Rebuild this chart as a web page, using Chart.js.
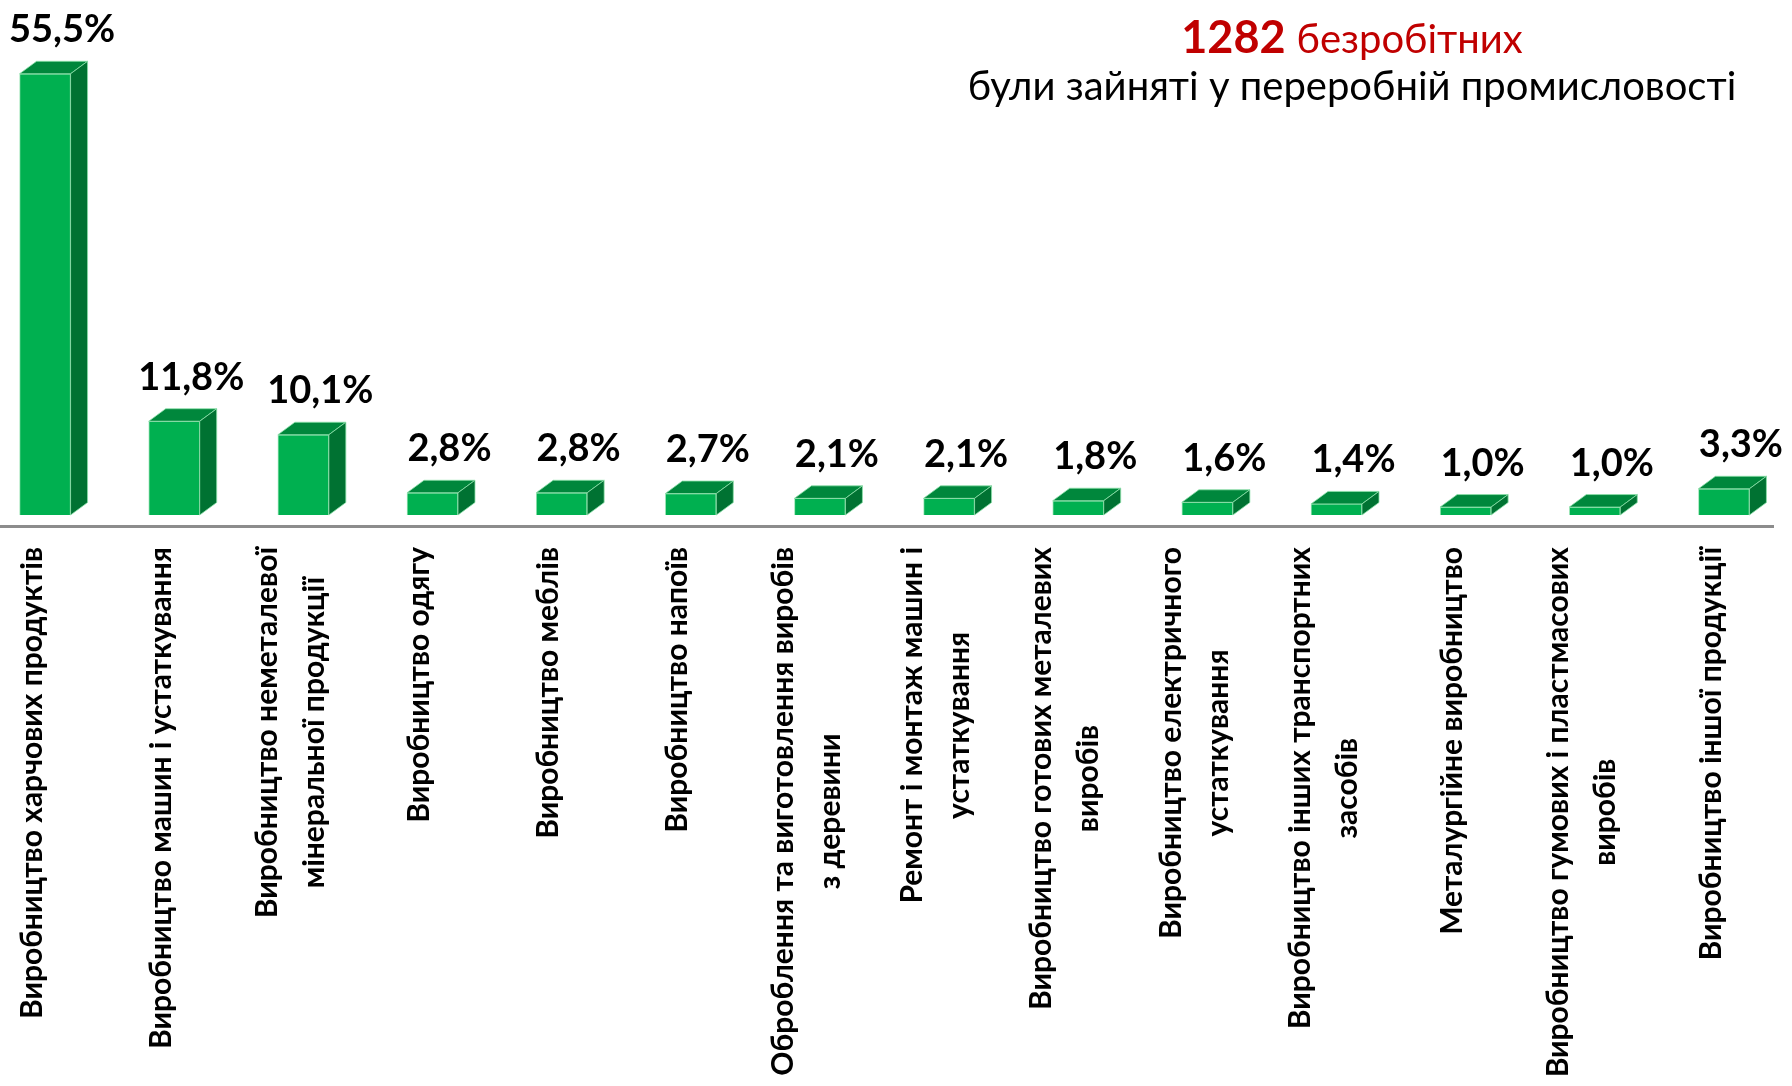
<!DOCTYPE html>
<html lang="uk">
<head>
  <meta charset="UTF-8">
  <title>Безробітні у переробній промисловості</title>
  <script src="https://cdn.jsdelivr.net/npm/chart.js"></script>
  <style>
    body { margin: 0; background: #fff; }
  </style>
</head>
<body>
  <canvas id="myChart" width="1792" height="1086"></canvas>

  <script>
    // data
    const categories = [
      'Виробництво харчових продуктів',
      'Виробництво машин і устаткування',
      ['Виробництво неметалевої', 'мінеральної продукції'],
      'Виробництво одягу',
      'Виробництво меблів',
      'Виробництво напоїв',
      ['Оброблення та виготовлення виробів', 'з деревини'],
      ['Ремонт і монтаж машин і', 'устаткування'],
      ['Виробництво готових металевих', 'виробів'],
      ['Виробництво електричного', 'устаткування'],
      ['Виробництво інших транспортних', 'засобів'],
      'Металургійне виробництво',
      ['Виробництво гумових і пластмасових', 'виробів'],
      'Виробництво іншої продукції'
    ];
    const shares = [55.5, 11.8, 10.1, 2.8, 2.8, 2.7, 2.1, 2.1, 1.8, 1.6, 1.4, 1.0, 1.0, 3.3];
    const titleCount = '1282';
    const titleWord = 'безробітних';
    const subtitle = 'були зайняті у переробній промисловості';

    const FONT = 'Lato, "Noto Sans", sans-serif';
    const DX = 17, DY = 12.5;   // depth of the fake 3d bars

    const fmt = v => v.toFixed(1).replace('.', ',') + '%';

    // draws top + side faces, value labels, category labels and the heading
    const bars3d = {
      id: 'bars3d',
      afterDatasetsDraw(chart) {
        const ctx = chart.ctx;
        const meta = chart.getDatasetMeta(0);
        ctx.save();
        meta.data.forEach((bar, i) => {
          const hw = bar.width / 2;
          const x0 = bar.x - hw, x1 = bar.x + hw;
          const top = bar.y, base = bar.base;
          // top face
          ctx.beginPath();
          ctx.moveTo(x0, top);
          ctx.lineTo(x1, top);
          ctx.lineTo(x1 + DX, top - DY);
          ctx.lineTo(x0 + DX, top - DY);
          ctx.closePath();
          ctx.fillStyle = '#00873C';
          ctx.fill();
          ctx.strokeStyle = 'rgba(140,225,170,0.8)';
          ctx.lineWidth = 1;
          ctx.stroke();
          // side face
          ctx.beginPath();
          ctx.moveTo(x1, top);
          ctx.lineTo(x1 + DX, top - DY);
          ctx.lineTo(x1 + DX, base - DY);
          ctx.lineTo(x1, base);
          ctx.closePath();
          ctx.fillStyle = '#007232';
          ctx.fill();
          ctx.stroke();

          // value label
          ctx.fillStyle = '#000';
          ctx.font = 'bold 38px ' + FONT;
          ctx.textAlign = 'center';
          ctx.textBaseline = 'alphabetic';
          ctx.fillText(fmt(shares[i]), bar.x + DX, top - DY - 19);
        });
        ctx.restore();
      },
      afterDraw(chart) {
        const ctx = chart.ctx;
        const xs = chart.scales.x;
        ctx.save();

        // rotated category labels, lines centred on each other
        ctx.font = 'bold 30px ' + FONT;
        ctx.fillStyle = '#000';
        ctx.textBaseline = 'middle';
        ctx.textAlign = 'center';
        categories.forEach((lab, i) => {
          const lines = Array.isArray(lab) ? lab : [lab];
          const w = Math.max(...lines.map(l => ctx.measureText(l).width));
          const cx = xs.getPixelForValue(i) - 13;
          ctx.save();
          ctx.translate(cx, 0);
          ctx.rotate(-Math.PI / 2);
          lines.forEach((l, j) => {
            const off = (j - (lines.length - 1) / 2) * 47;
            ctx.fillText(l, -(547 + w / 2), off);
          });
          ctx.restore();
        });

        // heading
        const cx = 1352;
        ctx.textAlign = 'left';
        ctx.textBaseline = 'alphabetic';
        ctx.fillStyle = '#C00000';
        ctx.font = 'bold 45px ' + FONT;
        const w1 = ctx.measureText(titleCount + ' ').width;
        ctx.font = '40px ' + FONT;
        const w2 = ctx.measureText(titleWord).width;
        let x = cx - (w1 + w2) / 2;
        ctx.font = 'bold 45px ' + FONT;
        ctx.fillText(titleCount + ' ', x, 53);
        ctx.font = '40px ' + FONT;
        ctx.fillText(titleWord, x + w1, 53);

        ctx.fillStyle = '#000';
        ctx.textAlign = 'center';
        ctx.font = '40px ' + FONT;
        ctx.fillText(subtitle, cx, 100);
        ctx.restore();
      }
    };

    const ctx = document.getElementById('myChart').getContext('2d');
    const myChart = new Chart(ctx, {
      type: 'bar',
      data: {
        datasets: [{
          data: shares.map((v, i) => ({ x: i, y: v })),
          backgroundColor: '#00B050',
          borderColor: 'rgba(140,225,170,0.8)',
          borderWidth: 1,
          barThickness: 51
        }]
      },
      plugins: [bars3d],
      options: {
        responsive: false,
        animation: false,
        layout: { padding: { top: 38, right: 19, bottom: 560, left: 0 } },
        plugins: {
          legend: { display: false },
          tooltip: { enabled: false }
        },
        scales: {
          x: {
            type: 'linear',
            offset: false,
            min: -0.349,
            max: 13.38,
            grid: { display: false, drawTicks: false },
            ticks: { display: false },
            border: { display: true, color: '#8C8C8C', width: 3 }
          },
          y: {
            display: false,
            min: -1.38,
            max: 60
          }
        }
      }
    });
  </script>
</body>
</html>
